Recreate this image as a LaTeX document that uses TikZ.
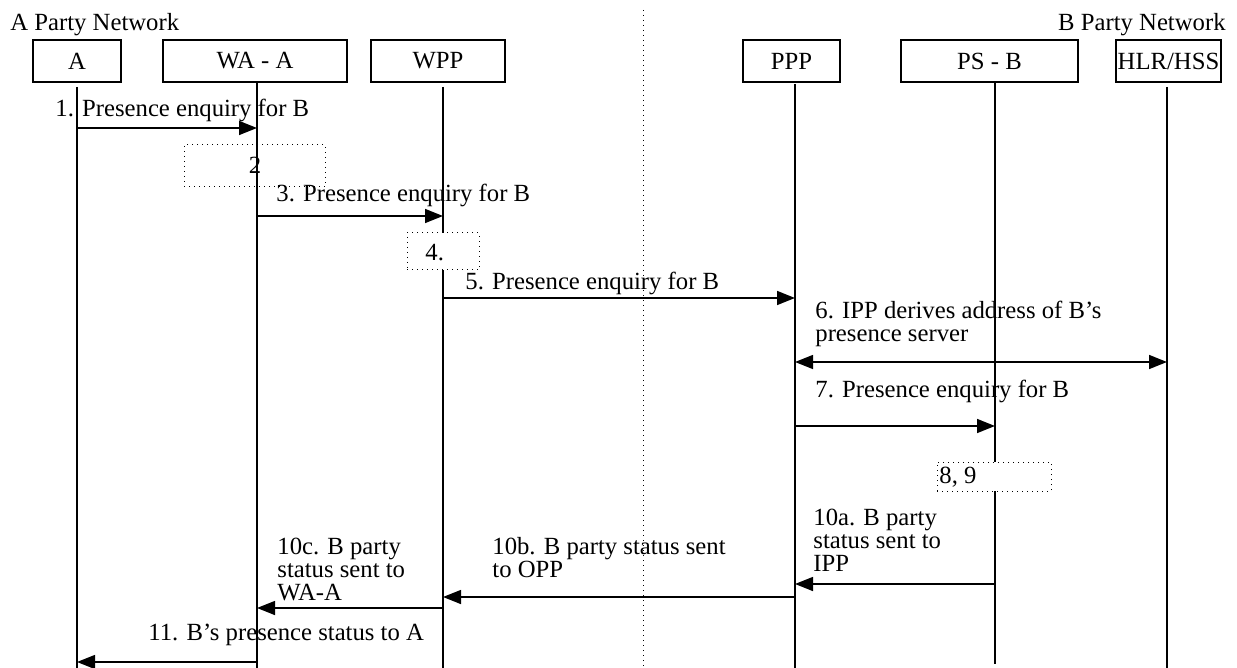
\documentclass[tikz,border=0pt]{standalone}
\usepackage{fontspec}
\setmainfont{Liberation Serif}
\usetikzlibrary{arrows.meta}

\begin{document}
\begin{tikzpicture}[x=0.5pt,y=-0.5pt,
  every node/.style={font=\fontsize{12.35pt}{11.5pt}\selectfont, inner sep=0pt},
  actor/.style={draw, line width=0.75pt, minimum height=21pt},
  life/.style={line width=0.75pt},
  msg/.style={line width=0.75pt, -{Triangle[length=9pt,width=7pt]}},
  twoway/.style={line width=0.75pt, {Triangle[length=9pt,width=7pt]}-{Triangle[length=9pt,width=7pt]}},
  note/.style={draw, dotted, line width=0.5pt},
  lbl/.style={anchor=base west, align=left}]
\useasboundingbox (0,0) rectangle (1237,668);

% network split
\coordinate (splitT) at (643,10);
\coordinate (splitB) at (643,668);
\draw[dotted, line width=0.5pt] (splitT) -- (splitB);

\node[anchor=base west] (netA) at (10,31) {A Party Network};
\node[anchor=base east] (netB) at (1226,31) {B Party Network};

% participants
\node[actor, minimum width=44pt]   (A)   at (77,61)     {A};
\node[actor, minimum width=92pt]   (WAA) at (255,61)    {WA - A};
\node[actor, minimum width=67pt]   (WPP) at (438,61)    {WPP};
\node[actor, minimum width=48.5pt] (PPP) at (791.5,61)  {PPP};
\node[actor, minimum width=88.5pt] (PSB) at (989.5,61)  {PS - B};
\node[actor, minimum width=52.5pt] (HLR) at (1168.5,61) {HLR/HSS};

% lifelines
\coordinate (lA1) at (77,87);    \coordinate (lA2) at (77,668);
\coordinate (lW1) at (257,82);   \coordinate (lW2) at (257,668);
\coordinate (lP1) at (443,87);   \coordinate (lP2) at (443,668);
\coordinate (lI1) at (795,84);   \coordinate (lI2) at (795,668);
\coordinate (lS1) at (995,82);   \coordinate (lS2) at (995,664);
\coordinate (lH1) at (1167,87);  \coordinate (lH2) at (1167,668);
\draw[life] (lA1) -- (lA2);
\draw[life] (lW1) -- (lW2);
\draw[life] (lP1) -- (lP2);
\draw[life] (lI1) -- (lI2);
\draw[life] (lS1) -- (lS2);
\draw[life] (lH1) -- (lH2);

% local processing steps
\node[note, minimum width=70.5pt, minimum height=21pt] (n2) at (254.5,166) {};
\node[anchor=base] (t2) at (255,174) {2};
\node[note, fill=white, minimum width=36pt, minimum height=18.5pt] (n4) at (443,251.5) {};
\node[anchor=base west] (t4) at (425,261) {4.};
\node[note, fill=white, minimum width=57pt, minimum height=14.5pt] (n89) at (994,476.5) {};
\node[anchor=base west] (t89) at (939,483) {8, 9};

% message end points
\coordinate (m1a) at (77,128);   \coordinate (m1b) at (257,128);
\coordinate (m3a) at (257,216);  \coordinate (m3b) at (443,216);
\coordinate (m5a) at (443,298);  \coordinate (m5b) at (795,298);
\coordinate (m6a) at (795,362);  \coordinate (m6b) at (1167,362);
\coordinate (m7a) at (795,426);  \coordinate (m7b) at (995,426);
\coordinate (m10aa) at (995,584); \coordinate (m10ab) at (795,584);
\coordinate (m10ba) at (795,597); \coordinate (m10bb) at (443,597);
\coordinate (m10ca) at (443,608); \coordinate (m10cb) at (257,608);
\coordinate (m11a) at (257,662); \coordinate (m11b) at (77,662);

% messages
\draw[msg] (m1a) -- (m1b);
\draw[msg] (m3a) -- (m3b);
\draw[msg] (m5a) -- (m5b);
\draw[twoway] (m6a) -- (m6b);
\draw[msg] (m7a) -- (m7b);
\draw[msg] (m10aa) -- (m10ab);
\draw[msg] (m10ba) -- (m10bb);
\draw[msg] (m10ca) -- (m10cb);
\draw[msg] (m11a) -- (m11b);

% message labels (base anchor sits on the last line)
\node[lbl] (l1)   at (55,117)  {1. Presence enquiry for B};
\node[lbl] (l3)   at (276,202) {3. Presence enquiry for B};
\node[lbl] (l5)   at (465,290) {5. Presence enquiry for B};
\node[lbl] (l6)   at (815,342) {6. IPP derives address of B’s\\presence server};
\node[lbl] (l7)   at (815,397) {7. Presence enquiry for B};
\node[lbl] (l10a) at (813,571) {10a. B party\\status sent to\\IPP};
\node[lbl] (l10b) at (492,577) {10b. B party status sent\\to OPP};
\node[lbl] (l10c) at (277,600) {10c. B party\\status sent to\\WA-A};
\node[lbl] (l11)  at (148,640) {11. B’s presence status to A};
\end{tikzpicture}
\end{document}
